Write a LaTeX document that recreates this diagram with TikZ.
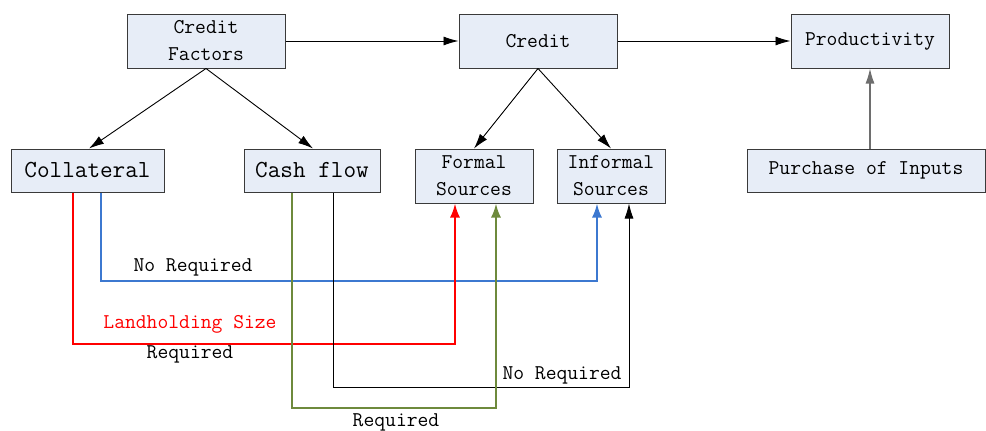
\documentclass[tikz,border=0pt]{standalone}
\usepackage{fontspec}
\usepackage{tikz}
\usepackage{xcolor}
\usetikzlibrary{arrows.meta,positioning,calc}
\definecolor{boxfill}{HTML}{E7EDF7}
\definecolor{boxline}{HTML}{3A3A3A}
\definecolor{landred}{HTML}{FF0000}
\definecolor{noreqblue}{HTML}{3C78D0}
\definecolor{reqgreen}{HTML}{6E8A3C}
\definecolor{upgray}{HTML}{6E6E6E}
\tikzset{
  box/.style={draw=boxline, fill=boxfill, line width=1pt, inner sep=0pt,
              align=center, font=\ttfamily\fontsize{21}{27}\selectfont},
  bigbox/.style={box, font=\ttfamily\fontsize{24.5}{28}\selectfont},
  arrow/.style={-{Latex[length=15pt,width=9pt]}, line width=0.9pt, draw=black},
  route/.style={-{Latex[length=14pt,width=10pt]}, line width=2pt, line join=miter},
  tag/.style={font=\ttfamily\fontsize{21}{24}\selectfont, inner sep=0pt}
}
\begin{document}
\begin{tikzpicture}[x=1pt,y=-1pt]
    \useasboundingbox (0,0) rectangle (986,431);
    % Top row
    \node[box, minimum width=158pt, minimum height=54pt] (factors) at (206,41) {Credit\\Factors};
    \node[box, minimum width=158pt, minimum height=54pt] (credit) at (538,41) {Credit};
    \node[box, minimum width=158pt, minimum height=54pt] (prod) at (870,41) {Productivity};

    % Second row
    \node[bigbox, minimum width=153pt, minimum height=43pt] (coll) at (87.5,170.5) {Collateral};
    \node[bigbox, minimum width=136pt, minimum height=43pt] (cash) at (312,170.5) {Cash flow};
    \node[box, minimum width=118pt, minimum height=54pt] (formal) at (474,176) {Formal\\Sources};
    \node[box, minimum width=108pt, minimum height=54pt] (informal) at (611,176) {Informal\\Sources};
    \node[box, minimum width=238pt, minimum height=43pt] (inputs) at (866,170.5) {Purchase of Inputs};

    % Main flow
    \draw[arrow] (factors) -- (credit);
    \draw[arrow] (credit) -- (prod);
    \draw[arrow] (factors.south) -- ([xshift=1.5pt]coll.north);
    \draw[arrow] (factors.south) -- ([xshift=1pt]cash.north);
    \draw[arrow] (credit.south) -- (formal.north);
    \draw[arrow] (credit.south) -- (informal.north);
    \draw[arrow, draw=upgray, line width=1.3pt] ([xshift=4pt]inputs.north) -- (prod.south);

    % Routes to the sources
    \draw[route, noreqblue] ([xshift=13.5pt]coll.south) -- ++(0,88) -| ([xshift=-14pt]informal.south);
    \draw[route, landred] ([xshift=-14.5pt]coll.south) -- ++(0,151) -| ([xshift=-19pt]formal.south);
    \draw[arrow, line width=0.9pt] ([xshift=21pt]cash.south) -- ++(0,195) -| ([xshift=18pt]informal.south);
    \draw[route, reqgreen] ([xshift=-20pt]cash.south) -- ++(0,215) -| ([xshift=22pt]formal.south);

    % Route labels
    \node[tag] (blueno) at (193,267) {No Required};
    \node[tag, text=landred] (land) at (190,324) {Landholding Size};
    \node[tag] (redreq) at (190,354) {Required};
    \node[tag] (blackno) at (562,375) {No Required};
    \node[tag] (greenreq) at (396,422) {Required};
\end{tikzpicture}
\end{document}
